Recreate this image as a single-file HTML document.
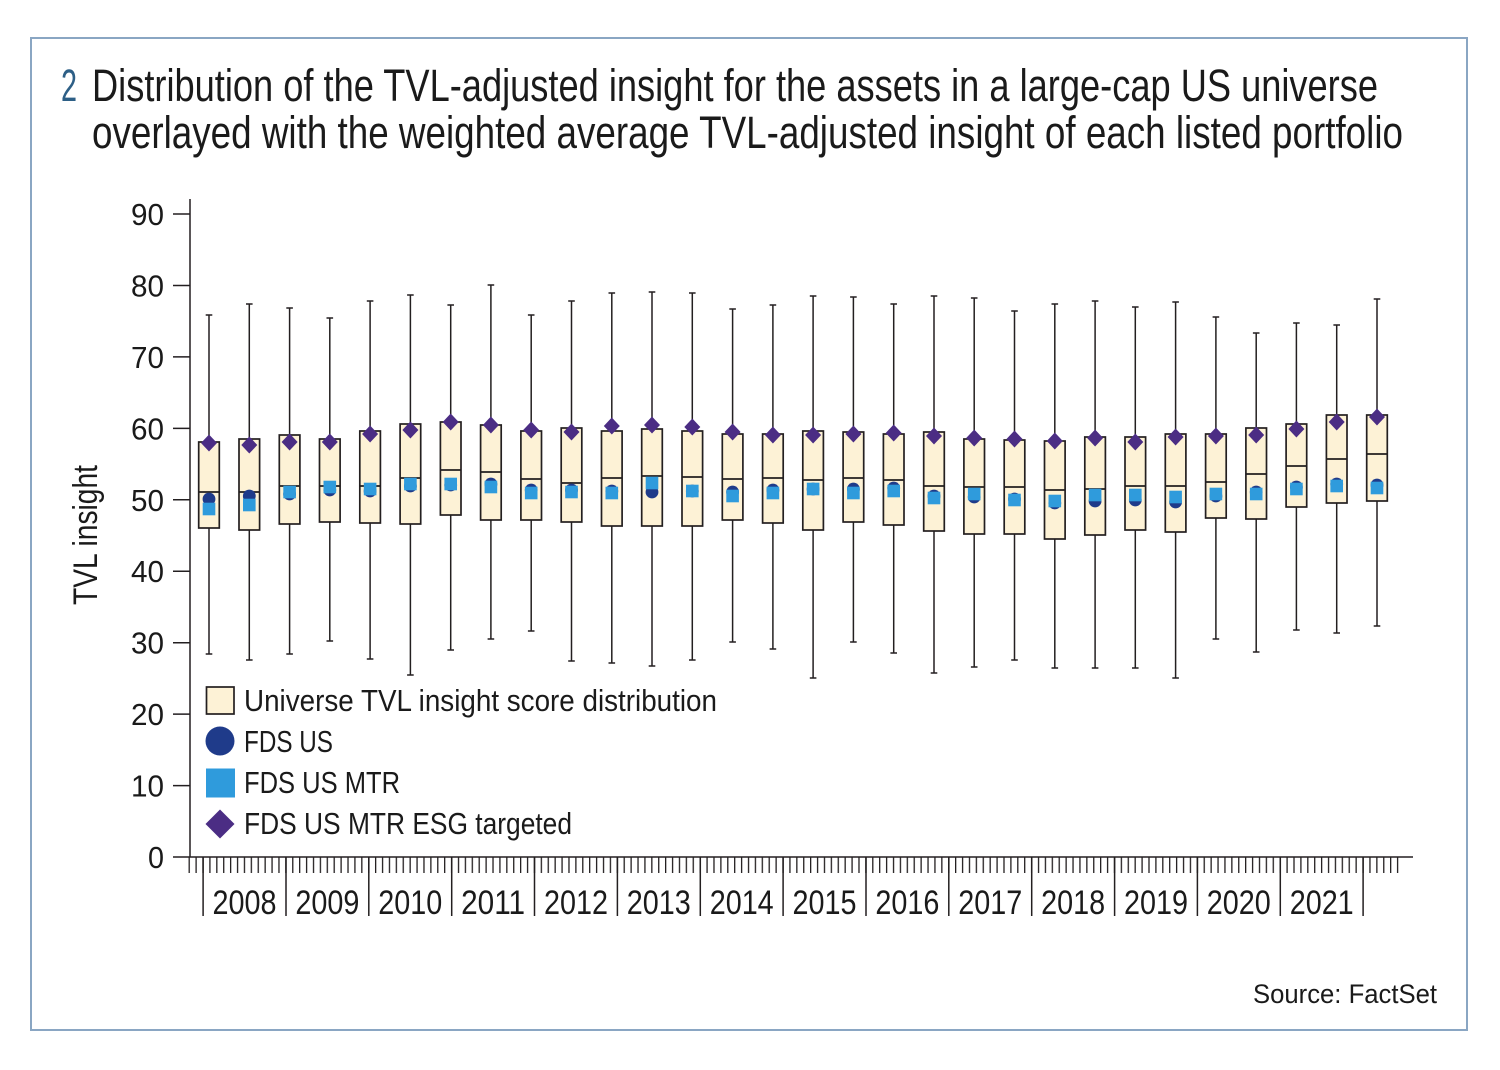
<!DOCTYPE html>
<html>
<head>
<meta charset="utf-8">
<style>
html,body{margin:0;padding:0;background:#fff;}
svg{display:block;}
text{font-family:"Liberation Sans",sans-serif;fill:#1a1a1a;}
.w{stroke:#231f20;stroke-width:1.5;fill:none;}
.b{fill:#fdf2d6;stroke:#231f20;stroke-width:1.7;}
.m{stroke:#231f20;stroke-width:1.8;fill:none;}
.c{fill:#1f3b8a;}
.s{fill:#2f9bdc;}
.d{fill:#4b2d84;}
</style>
</head>
<body>
<svg width="1500" height="1070" viewBox="0 0 1500 1070" xmlns="http://www.w3.org/2000/svg">
<defs>
<pattern id="mt" patternUnits="userSpaceOnUse" x="188.55" y="857" width="6.905" height="16">
<rect x="0" y="0" width="1.3" height="16" fill="#231f20"/>
</pattern>
</defs>
<rect x="0" y="0" width="1500" height="1070" fill="#fff"/>
<rect x="31" y="38" width="1436" height="992" fill="none" stroke="#8aa6c3" stroke-width="2"/>

<!-- Title -->
<text x="61" y="101" font-size="45" textLength="16" lengthAdjust="spacingAndGlyphs" style="fill:#2d5f86">2</text>
<text x="92" y="101" font-size="45" textLength="1286" lengthAdjust="spacingAndGlyphs">Distribution of the TVL-adjusted insight for the assets in a large-cap US universe</text>
<text x="92" y="148" font-size="45" textLength="1311" lengthAdjust="spacingAndGlyphs">overlayed with the weighted average TVL-adjusted insight of each listed portfolio</text>

<!-- Y axis title -->
<text transform="translate(97,535) rotate(-90)" text-anchor="middle" font-size="34" textLength="140" lengthAdjust="spacingAndGlyphs">TVL insight</text>

<!-- Y axis -->
<path class="w" d="M190 199V857M173 857H1413"/>
<path class="w" d="M173 214H190M173 285.5H190M173 356.9H190M173 428.4H190M173 499.8H190M173 571.2H190M173 642.7H190M173 714.1H190M173 785.6H190"/>
<g font-size="31" text-anchor="end">
<text x="164" y="225" textLength="33" lengthAdjust="spacingAndGlyphs">90</text>
<text x="164" y="296.5" textLength="33" lengthAdjust="spacingAndGlyphs">80</text>
<text x="164" y="367.9" textLength="33" lengthAdjust="spacingAndGlyphs">70</text>
<text x="164" y="439.4" textLength="33" lengthAdjust="spacingAndGlyphs">60</text>
<text x="164" y="510.8" textLength="33" lengthAdjust="spacingAndGlyphs">50</text>
<text x="164" y="582.2" textLength="33" lengthAdjust="spacingAndGlyphs">40</text>
<text x="164" y="653.7" textLength="33" lengthAdjust="spacingAndGlyphs">30</text>
<text x="164" y="725.1" textLength="33" lengthAdjust="spacingAndGlyphs">20</text>
<text x="164" y="796.6" textLength="33" lengthAdjust="spacingAndGlyphs">10</text>
<text x="164" y="868" textLength="16" lengthAdjust="spacingAndGlyphs">0</text>
</g>

<!-- X axis ticks -->
<rect x="188.5" y="857" width="1210" height="16" fill="url(#mt)"/>
<path class="w" d="M203.1 857V916M286 857V916M368.8 857V916M451.7 857V916M534.5 857V916M617.4 857V916M700.3 857V916M783.1 857V916M866 857V916M948.8 857V916M1031.7 857V916M1114.6 857V916M1197.4 857V916M1280.3 857V916M1363.1 857V916"/>
<g font-size="34" text-anchor="middle">
<text x="244.5" y="914" textLength="64" lengthAdjust="spacingAndGlyphs">2008</text>
<text x="327.4" y="914" textLength="64" lengthAdjust="spacingAndGlyphs">2009</text>
<text x="410.3" y="914" textLength="64" lengthAdjust="spacingAndGlyphs">2010</text>
<text x="493.1" y="914" textLength="64" lengthAdjust="spacingAndGlyphs">2011</text>
<text x="576" y="914" textLength="64" lengthAdjust="spacingAndGlyphs">2012</text>
<text x="658.8" y="914" textLength="64" lengthAdjust="spacingAndGlyphs">2013</text>
<text x="741.7" y="914" textLength="64" lengthAdjust="spacingAndGlyphs">2014</text>
<text x="824.5" y="914" textLength="64" lengthAdjust="spacingAndGlyphs">2015</text>
<text x="907.4" y="914" textLength="64" lengthAdjust="spacingAndGlyphs">2016</text>
<text x="990.3" y="914" textLength="64" lengthAdjust="spacingAndGlyphs">2017</text>
<text x="1073.1" y="914" textLength="64" lengthAdjust="spacingAndGlyphs">2018</text>
<text x="1156" y="914" textLength="64" lengthAdjust="spacingAndGlyphs">2019</text>
<text x="1238.8" y="914" textLength="64" lengthAdjust="spacingAndGlyphs">2020</text>
<text x="1321.7" y="914" textLength="64" lengthAdjust="spacingAndGlyphs">2021</text>
</g>

<!-- Boxes -->
<g transform="translate(209,0)"><path class="w" d="M0 315V654M-3.3 315h6.6M-3.3 654h6.6"/><rect class="b" x="-10.3" y="442" width="20.6" height="86"/><path class="m" d="M-10.3 492h20.6"/><circle class="c" cx="0" cy="499" r="6.4"/><rect class="s" x="-6.3" y="502.7" width="12.6" height="12.6"/><path class="d" d="M0 434.5l8 8.5-8 8.5-8-8.5z"/></g>
<g transform="translate(249.3,0)"><path class="w" d="M0 304V660M-3.3 304h6.6M-3.3 660h6.6"/><rect class="b" x="-10.3" y="439" width="20.6" height="91"/><path class="m" d="M-10.3 492h20.6"/><circle class="c" cx="0" cy="496" r="6.4"/><rect class="s" x="-6.3" y="498.7" width="12.6" height="12.6"/><path class="d" d="M0 436.5l8 8.5-8 8.5-8-8.5z"/></g>
<g transform="translate(289.6,0)"><path class="w" d="M0 308V654M-3.3 308h6.6M-3.3 654h6.6"/><rect class="b" x="-10.3" y="435" width="20.6" height="89"/><path class="m" d="M-10.3 486h20.6"/><circle class="c" cx="0" cy="494" r="6.4"/><rect class="s" x="-6.3" y="485.7" width="12.6" height="12.6"/><path class="d" d="M0 433.5l8 8.5-8 8.5-8-8.5z"/></g>
<g transform="translate(329.8,0)"><path class="w" d="M0 318V641M-3.3 318h6.6M-3.3 641h6.6"/><rect class="b" x="-10.3" y="439" width="20.6" height="83"/><path class="m" d="M-10.3 486h20.6"/><circle class="c" cx="0" cy="490" r="6.4"/><rect class="s" x="-6.3" y="480.7" width="12.6" height="12.6"/><path class="d" d="M0 433.5l8 8.5-8 8.5-8-8.5z"/></g>
<g transform="translate(370.1,0)"><path class="w" d="M0 301V659M-3.3 301h6.6M-3.3 659h6.6"/><rect class="b" x="-10.3" y="431" width="20.6" height="92"/><path class="m" d="M-10.3 486h20.6"/><circle class="c" cx="0" cy="491" r="6.4"/><rect class="s" x="-6.3" y="482.7" width="12.6" height="12.6"/><path class="d" d="M0 425.5l8 8.5-8 8.5-8-8.5z"/></g>
<g transform="translate(410.4,0)"><path class="w" d="M0 295V675M-3.3 295h6.6M-3.3 675h6.6"/><rect class="b" x="-10.3" y="424" width="20.6" height="100"/><path class="m" d="M-10.3 478h20.6"/><circle class="c" cx="0" cy="486" r="6.4"/><rect class="s" x="-6.3" y="477.7" width="12.6" height="12.6"/><path class="d" d="M0 421.5l8 8.5-8 8.5-8-8.5z"/></g>
<g transform="translate(450.7,0)"><path class="w" d="M0 305V650M-3.3 305h6.6M-3.3 650h6.6"/><rect class="b" x="-10.3" y="422" width="20.6" height="93"/><path class="m" d="M-10.3 470h20.6"/><circle class="c" cx="0" cy="485" r="6.4"/><rect class="s" x="-6.3" y="477.7" width="12.6" height="12.6"/><path class="d" d="M0 413.5l8 8.5-8 8.5-8-8.5z"/></g>
<g transform="translate(490.9,0)"><path class="w" d="M0 285V639M-3.3 285h6.6M-3.3 639h6.6"/><rect class="b" x="-10.3" y="425" width="20.6" height="95"/><path class="m" d="M-10.3 472h20.6"/><circle class="c" cx="0" cy="484" r="6.4"/><rect class="s" x="-6.3" y="480.7" width="12.6" height="12.6"/><path class="d" d="M0 416.5l8 8.5-8 8.5-8-8.5z"/></g>
<g transform="translate(531.2,0)"><path class="w" d="M0 315V631M-3.3 315h6.6M-3.3 631h6.6"/><rect class="b" x="-10.3" y="431" width="20.6" height="89"/><path class="m" d="M-10.3 479h20.6"/><circle class="c" cx="0" cy="490" r="6.4"/><rect class="s" x="-6.3" y="486.7" width="12.6" height="12.6"/><path class="d" d="M0 421.5l8 8.5-8 8.5-8-8.5z"/></g>
<g transform="translate(571.5,0)"><path class="w" d="M0 301V661M-3.3 301h6.6M-3.3 661h6.6"/><rect class="b" x="-10.3" y="428" width="20.6" height="94"/><path class="m" d="M-10.3 483h20.6"/><circle class="c" cx="0" cy="490" r="6.4"/><rect class="s" x="-6.3" y="485.7" width="12.6" height="12.6"/><path class="d" d="M0 423.5l8 8.5-8 8.5-8-8.5z"/></g>
<g transform="translate(611.8,0)"><path class="w" d="M0 293V663M-3.3 293h6.6M-3.3 663h6.6"/><rect class="b" x="-10.3" y="431" width="20.6" height="95"/><path class="m" d="M-10.3 478h20.6"/><circle class="c" cx="0" cy="491" r="6.4"/><rect class="s" x="-6.3" y="486.7" width="12.6" height="12.6"/><path class="d" d="M0 417.5l8 8.5-8 8.5-8-8.5z"/></g>
<g transform="translate(652,0)"><path class="w" d="M0 292V666M-3.3 292h6.6M-3.3 666h6.6"/><rect class="b" x="-10.3" y="429" width="20.6" height="97"/><path class="m" d="M-10.3 476h20.6"/><circle class="c" cx="0" cy="492" r="6.4"/><rect class="s" x="-6.3" y="476.7" width="12.6" height="12.6"/><path class="d" d="M0 416.5l8 8.5-8 8.5-8-8.5z"/></g>
<g transform="translate(692.3,0)"><path class="w" d="M0 293V660M-3.3 293h6.6M-3.3 660h6.6"/><rect class="b" x="-10.3" y="431" width="20.6" height="95"/><path class="m" d="M-10.3 477h20.6"/><circle class="c" cx="0" cy="491" r="6.4"/><rect class="s" x="-6.3" y="484.7" width="12.6" height="12.6"/><path class="d" d="M0 418.5l8 8.5-8 8.5-8-8.5z"/></g>
<g transform="translate(732.6,0)"><path class="w" d="M0 309V642M-3.3 309h6.6M-3.3 642h6.6"/><rect class="b" x="-10.3" y="434" width="20.6" height="86"/><path class="m" d="M-10.3 479h20.6"/><circle class="c" cx="0" cy="492" r="6.4"/><rect class="s" x="-6.3" y="489.7" width="12.6" height="12.6"/><path class="d" d="M0 423.5l8 8.5-8 8.5-8-8.5z"/></g>
<g transform="translate(772.9,0)"><path class="w" d="M0 305V649M-3.3 305h6.6M-3.3 649h6.6"/><rect class="b" x="-10.3" y="434" width="20.6" height="89"/><path class="m" d="M-10.3 478h20.6"/><circle class="c" cx="0" cy="490" r="6.4"/><rect class="s" x="-6.3" y="486.7" width="12.6" height="12.6"/><path class="d" d="M0 426.5l8 8.5-8 8.5-8-8.5z"/></g>
<g transform="translate(813.1,0)"><path class="w" d="M0 296V678M-3.3 296h6.6M-3.3 678h6.6"/><rect class="b" x="-10.3" y="431" width="20.6" height="99"/><path class="m" d="M-10.3 480h20.6"/><circle class="c" cx="0" cy="489" r="6.4"/><rect class="s" x="-6.3" y="482.7" width="12.6" height="12.6"/><path class="d" d="M0 426.5l8 8.5-8 8.5-8-8.5z"/></g>
<g transform="translate(853.4,0)"><path class="w" d="M0 297V642M-3.3 297h6.6M-3.3 642h6.6"/><rect class="b" x="-10.3" y="432" width="20.6" height="90"/><path class="m" d="M-10.3 478h20.6"/><circle class="c" cx="0" cy="489" r="6.4"/><rect class="s" x="-6.3" y="486.7" width="12.6" height="12.6"/><path class="d" d="M0 425.5l8 8.5-8 8.5-8-8.5z"/></g>
<g transform="translate(893.7,0)"><path class="w" d="M0 304V653M-3.3 304h6.6M-3.3 653h6.6"/><rect class="b" x="-10.3" y="434" width="20.6" height="91"/><path class="m" d="M-10.3 480h20.6"/><circle class="c" cx="0" cy="488" r="6.4"/><rect class="s" x="-6.3" y="484.7" width="12.6" height="12.6"/><path class="d" d="M0 424.5l8 8.5-8 8.5-8-8.5z"/></g>
<g transform="translate(934,0)"><path class="w" d="M0 296V673M-3.3 296h6.6M-3.3 673h6.6"/><rect class="b" x="-10.3" y="432" width="20.6" height="99"/><path class="m" d="M-10.3 486h20.6"/><circle class="c" cx="0" cy="496" r="6.4"/><rect class="s" x="-6.3" y="491.7" width="12.6" height="12.6"/><path class="d" d="M0 427.5l8 8.5-8 8.5-8-8.5z"/></g>
<g transform="translate(974.2,0)"><path class="w" d="M0 298V667M-3.3 298h6.6M-3.3 667h6.6"/><rect class="b" x="-10.3" y="439" width="20.6" height="95"/><path class="m" d="M-10.3 487h20.6"/><circle class="c" cx="0" cy="497" r="6.4"/><rect class="s" x="-6.3" y="487.7" width="12.6" height="12.6"/><path class="d" d="M0 429.5l8 8.5-8 8.5-8-8.5z"/></g>
<g transform="translate(1014.5,0)"><path class="w" d="M0 311V660M-3.3 311h6.6M-3.3 660h6.6"/><rect class="b" x="-10.3" y="440" width="20.6" height="94"/><path class="m" d="M-10.3 487h20.6"/><circle class="c" cx="0" cy="499" r="6.4"/><rect class="s" x="-6.3" y="493.7" width="12.6" height="12.6"/><path class="d" d="M0 430.5l8 8.5-8 8.5-8-8.5z"/></g>
<g transform="translate(1054.8,0)"><path class="w" d="M0 304V668M-3.3 304h6.6M-3.3 668h6.6"/><rect class="b" x="-10.3" y="441" width="20.6" height="98"/><path class="m" d="M-10.3 490h20.6"/><circle class="c" cx="0" cy="503" r="6.4"/><rect class="s" x="-6.3" y="494.7" width="12.6" height="12.6"/><path class="d" d="M0 432.5l8 8.5-8 8.5-8-8.5z"/></g>
<g transform="translate(1095.1,0)"><path class="w" d="M0 301V668M-3.3 301h6.6M-3.3 668h6.6"/><rect class="b" x="-10.3" y="437" width="20.6" height="98"/><path class="m" d="M-10.3 489h20.6"/><circle class="c" cx="0" cy="501" r="6.4"/><rect class="s" x="-6.3" y="488.7" width="12.6" height="12.6"/><path class="d" d="M0 429.5l8 8.5-8 8.5-8-8.5z"/></g>
<g transform="translate(1135.3,0)"><path class="w" d="M0 307V668M-3.3 307h6.6M-3.3 668h6.6"/><rect class="b" x="-10.3" y="437" width="20.6" height="93"/><path class="m" d="M-10.3 486h20.6"/><circle class="c" cx="0" cy="500" r="6.4"/><rect class="s" x="-6.3" y="488.7" width="12.6" height="12.6"/><path class="d" d="M0 433.5l8 8.5-8 8.5-8-8.5z"/></g>
<g transform="translate(1175.6,0)"><path class="w" d="M0 302V678M-3.3 302h6.6M-3.3 678h6.6"/><rect class="b" x="-10.3" y="434" width="20.6" height="98"/><path class="m" d="M-10.3 486h20.6"/><circle class="c" cx="0" cy="502" r="6.4"/><rect class="s" x="-6.3" y="490.7" width="12.6" height="12.6"/><path class="d" d="M0 428.5l8 8.5-8 8.5-8-8.5z"/></g>
<g transform="translate(1215.9,0)"><path class="w" d="M0 317V639M-3.3 317h6.6M-3.3 639h6.6"/><rect class="b" x="-10.3" y="434" width="20.6" height="84"/><path class="m" d="M-10.3 482h20.6"/><circle class="c" cx="0" cy="496" r="6.4"/><rect class="s" x="-6.3" y="487.7" width="12.6" height="12.6"/><path class="d" d="M0 427.5l8 8.5-8 8.5-8-8.5z"/></g>
<g transform="translate(1256.2,0)"><path class="w" d="M0 333V652M-3.3 333h6.6M-3.3 652h6.6"/><rect class="b" x="-10.3" y="428" width="20.6" height="91"/><path class="m" d="M-10.3 474h20.6"/><circle class="c" cx="0" cy="492" r="6.4"/><rect class="s" x="-6.3" y="487.7" width="12.6" height="12.6"/><path class="d" d="M0 426.5l8 8.5-8 8.5-8-8.5z"/></g>
<g transform="translate(1296.4,0)"><path class="w" d="M0 323V630M-3.3 323h6.6M-3.3 630h6.6"/><rect class="b" x="-10.3" y="424" width="20.6" height="83"/><path class="m" d="M-10.3 466h20.6"/><circle class="c" cx="0" cy="487" r="6.4"/><rect class="s" x="-6.3" y="482.7" width="12.6" height="12.6"/><path class="d" d="M0 420.5l8 8.5-8 8.5-8-8.5z"/></g>
<g transform="translate(1336.7,0)"><path class="w" d="M0 325V633M-3.3 325h6.6M-3.3 633h6.6"/><rect class="b" x="-10.3" y="415" width="20.6" height="88"/><path class="m" d="M-10.3 459h20.6"/><circle class="c" cx="0" cy="484" r="6.4"/><rect class="s" x="-6.3" y="479.7" width="12.6" height="12.6"/><path class="d" d="M0 413.5l8 8.5-8 8.5-8-8.5z"/></g>
<g transform="translate(1377,0)"><path class="w" d="M0 299V626M-3.3 299h6.6M-3.3 626h6.6"/><rect class="b" x="-10.3" y="415" width="20.6" height="86"/><path class="m" d="M-10.3 454h20.6"/><circle class="c" cx="0" cy="485" r="6.4"/><rect class="s" x="-6.3" y="481.7" width="12.6" height="12.6"/><path class="d" d="M0 408.5l8 8.5-8 8.5-8-8.5z"/></g>

<!-- Legend -->
<rect x="0" y="0" width="0" height="0" fill="none"/>
<rect class="b" x="206.5" y="687" width="27.5" height="27"/>
<circle class="c" cx="220" cy="741" r="14.5"/>
<rect class="s" x="206" y="768.5" width="29" height="29"/>
<path class="d" d="M220 809.5l14.5 14.5-14.5 14.5-14.5-14.5z"/>
<g font-size="31">
<text x="244" y="711" textLength="473" lengthAdjust="spacingAndGlyphs">Universe TVL insight score distribution</text>
<text x="244" y="752" textLength="89" lengthAdjust="spacingAndGlyphs">FDS US</text>
<text x="244" y="793" textLength="156" lengthAdjust="spacingAndGlyphs">FDS US MTR</text>
<text x="244" y="834" textLength="328" lengthAdjust="spacingAndGlyphs">FDS US MTR ESG targeted</text>
</g>

<!-- Source -->
<text x="1437" y="1003" font-size="27" text-anchor="end" textLength="184" lengthAdjust="spacingAndGlyphs">Source: FactSet</text>
</svg>
</body>
</html>
